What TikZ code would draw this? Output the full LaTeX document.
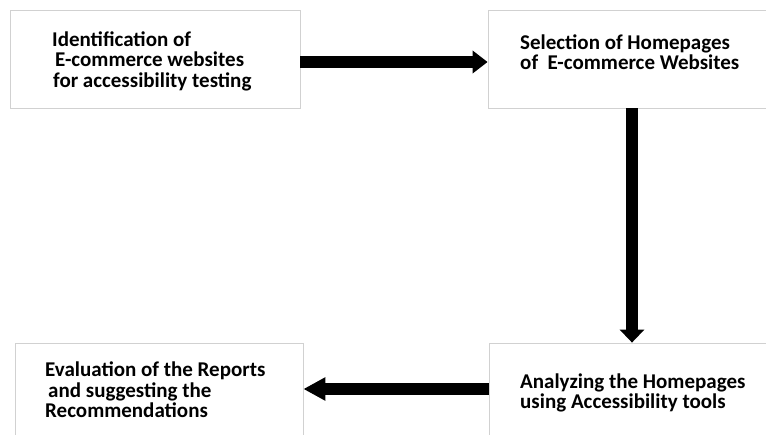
\documentclass[tikz,border=0pt]{standalone}
\usepackage{fontspec}
\setmainfont{Carlito}
\usetikzlibrary{arrows.meta}
\begin{document}
\begin{tikzpicture}[x=1pt,y=-1pt,
  box/.style={draw=black!18,line width=0.8pt,fill=white,rectangle,inner sep=0pt},
  txt/.style={anchor=west,align=left,inner sep=0pt,font=\bfseries\fontsize{21}{20.5}\selectfont},
  bigarrow/.style={line width=12pt,-{Triangle[width=22pt,length=15pt]}}]
\useasboundingbox (0,0) rectangle (766,434);
\clip (0,0) rectangle (766,434);
\node[box,minimum width=290pt,minimum height=98pt] (b1) at (155,59) {};
\node[box,minimum width=288pt,minimum height=98pt] (b2) at (632,59) {};
\node[box,minimum width=288pt,minimum height=92pt] (b3) at (159,389) {};
\node[box,minimum width=286pt,minimum height=92pt] (b4) at (632,389) {};
\node[txt] (t1) at (52,61) {Identification of\\\hspace{3pt}E-commerce websites\\\hspace{1pt}for accessibility testing};
\node[txt] (t2) at (520,52) {Selection of Homepages\\of\ \ E-commerce Websites};
\node[txt] (t3) at (45,390) {Evaluation of the Reports\\\hspace{3pt}and suggesting the\\Recommendations};
\node[txt] (t4) at (520,393) {Analyzing the Homepages\\using Accessibility tools};
\draw[bigarrow] ([yshift=-3pt]b1.east) -- ([yshift=-3pt]b2.west);
\draw[bigarrow,-{Triangle[width=24pt,length=13pt]}] (b2.south) -- (b4.north);
\draw[bigarrow,-{Triangle[width=22pt,length=22pt]}] (b4.west) -- (b3.east);
\end{tikzpicture}
\end{document}
